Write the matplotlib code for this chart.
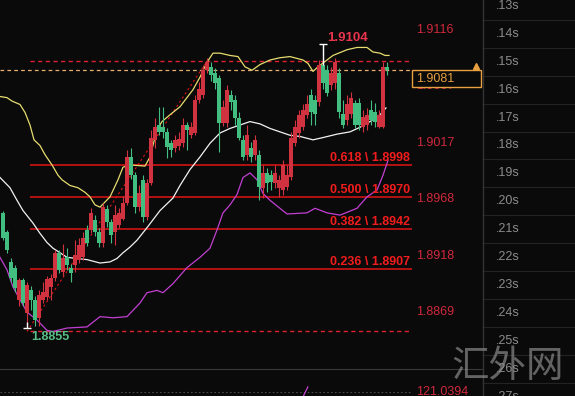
import matplotlib.pyplot as plt
from matplotlib.patches import Rectangle
from matplotlib.transforms import blended_transform_factory

plt.rcParams['font.family'] = ['Liberation Sans', 'DejaVu Sans']

# candle data (one entry per bar)
opens = [1.8956, 1.8939, 1.8913, 1.8908, 1.8880, 1.8897, 1.8868, 1.8888, 1.8880, 1.8864,
         1.8880, 1.8882, 1.8891, 1.8899, 1.8921, 1.8904, 1.8917, 1.8908, 1.8910, 1.8915,
         1.8917, 1.8941, 1.8941, 1.8950, 1.8939, 1.8930, 1.8959, 1.8948, 1.8939, 1.8945,
         1.8951, 1.8965, 1.9005, 1.8989, 1.8961, 1.8985, 1.8952, 1.8982, 1.9020, 1.9033,
         1.9031, 1.9027, 1.9017, 1.9013, 1.9015, 1.9017, 1.9033, 1.9024, 1.9026, 1.9055,
         1.9059, 1.9081, 1.9084, 1.9079, 1.9074, 1.9035, 1.9035, 1.9059, 1.9055, 1.9039,
         1.9020, 1.9007, 1.9013, 1.9007, 1.9007, 1.8978, 1.8991, 1.8989, 1.8982, 1.8978,
         1.8976, 1.8979, 1.8987, 1.9017, 1.9026, 1.9031, 1.9042, 1.9059, 1.9055, 1.9053,
         1.9086, 1.9081, 1.9068, 1.9070, 1.9079, 1.9043, 1.9037, 1.9043, 1.9052, 1.9052,
         1.9031, 1.9033, 1.9046, 1.9044, 1.9031, 1.9031, 1.9084]
closes = [1.8934, 1.8923, 1.8899, 1.8890, 1.8897, 1.8877, 1.8893, 1.8880, 1.8862, 1.8884,
          1.8887, 1.8898, 1.8899, 1.8921, 1.8906, 1.8916, 1.8910, 1.8903, 1.8919, 1.8928,
          1.8934, 1.8930, 1.8956, 1.8939, 1.8930, 1.8961, 1.8948, 1.8937, 1.8954, 1.8956,
          1.8965, 1.9005, 1.8989, 1.8961, 1.8973, 1.8952, 1.8982, 1.9022, 1.9031, 1.9027,
          1.9027, 1.9014, 1.9011, 1.9020, 1.9021, 1.9033, 1.9029, 1.9031, 1.9055, 1.9065,
          1.9081, 1.9088, 1.9077, 1.9070, 1.9035, 1.9049, 1.9064, 1.9053, 1.9039, 1.9022,
          1.9005, 1.9024, 1.9005, 1.9020, 1.8979, 1.8991, 1.8982, 1.8983, 1.8991, 1.8985,
          1.8998, 1.8989, 1.9022, 1.9031, 1.9042, 1.9046, 1.9051, 1.9044, 1.9043, 1.9086,
          1.9070, 1.9061, 1.9079, 1.9088, 1.9044, 1.9033, 1.9051, 1.9057, 1.9033, 1.9033,
          1.9040, 1.9042, 1.9037, 1.9036, 1.9042, 1.9084, 1.9081]
highs = [1.8958, 1.8941, 1.8916, 1.8910, 1.8899, 1.8899, 1.8895, 1.8892, 1.8883, 1.8888,
         1.8895, 1.8901, 1.8902, 1.8923, 1.8923, 1.8929, 1.8925, 1.8911, 1.8932, 1.8934,
         1.8939, 1.8945, 1.8960, 1.8954, 1.8943, 1.8965, 1.8963, 1.8951, 1.8963, 1.8960,
         1.8971, 1.9011, 1.9013, 1.8992, 1.8980, 1.8989, 1.8986, 1.9029, 1.9039, 1.9049,
         1.9049, 1.9030, 1.9020, 1.9024, 1.9027, 1.9039, 1.9036, 1.9036, 1.9059, 1.9071,
         1.9086, 1.9092, 1.9088, 1.9083, 1.9077, 1.9055, 1.9068, 1.9064, 1.9059, 1.9044,
         1.9024, 1.9033, 1.9018, 1.9024, 1.9011, 1.8998, 1.8995, 1.8994, 1.8998, 1.8989,
         1.9002, 1.8998, 1.9027, 1.9037, 1.9046, 1.9051, 1.9059, 1.9065, 1.9059, 1.9090,
         1.9104, 1.9086, 1.9084, 1.9092, 1.9083, 1.9055, 1.9059, 1.9062, 1.9055, 1.9057,
         1.9046, 1.9048, 1.9055, 1.9052, 1.9046, 1.9088, 1.9088]
lows = [1.8932, 1.8921, 1.8895, 1.8887, 1.8874, 1.8874, 1.8855, 1.8871, 1.8857, 1.8857,
        1.8877, 1.8880, 1.8880, 1.8896, 1.8903, 1.8901, 1.8906, 1.8895, 1.8904, 1.8912,
        1.8915, 1.8927, 1.8938, 1.8936, 1.8926, 1.8926, 1.8944, 1.8930, 1.8928, 1.8943,
        1.8950, 1.8963, 1.8986, 1.8956, 1.8958, 1.8948, 1.8950, 1.8980, 1.9013, 1.9024,
        1.9022, 1.9004, 1.9005, 1.9009, 1.9011, 1.9014, 1.9011, 1.9022, 1.9024, 1.9052,
        1.9057, 1.9079, 1.9072, 1.9065, 1.9009, 1.9032, 1.9031, 1.9046, 1.9033, 1.9020,
        1.9002, 1.9002, 1.9001, 1.9002, 1.8967, 1.8969, 1.8974, 1.8976, 1.8978, 1.8970,
        1.8972, 1.8976, 1.8985, 1.9015, 1.9022, 1.9029, 1.9039, 1.9033, 1.9033, 1.9050,
        1.9065, 1.9058, 1.9064, 1.9065, 1.9039, 1.9030, 1.9033, 1.9039, 1.9030, 1.9029,
        1.9027, 1.9029, 1.9033, 1.9031, 1.9030, 1.9030, 1.9077]

# band indicator (bar index, value)
upper_idx = [-0.75, 1, 2.25, 4.25, 5.5, 6.75, 7.75, 9.25, 10.5, 12.25, 13.75, 14.75, 16.75,
             18.75, 20.5, 21.75, 23, 24.25, 26.75, 28.75, 30, 31.75, 35.5, 36.75, 38.5,
             39.75, 41.75, 44.25, 47.5, 49.25, 51, 52.5, 54.25, 56.75, 58.75, 60.5, 62.25,
             64.25, 66.75, 69.25, 71.75, 75, 76.25, 77.5, 78.75, 81, 82.5, 86, 88.5, 91,
             92.5, 94.25, 95.5, 96.5]
upper_vals = [1.9058, 1.9057, 1.9054, 1.9051, 1.9044, 1.9033, 1.9020, 1.9015, 1.9007, 1.8998,
              1.8989, 1.8985, 1.8980, 1.8978, 1.8974, 1.8970, 1.8963, 1.8961, 1.8970, 1.8985,
              1.8996, 1.8998, 1.8997, 1.9005, 1.9029, 1.9036, 1.9042, 1.9049, 1.9064, 1.9075,
              1.9088, 1.9096, 1.9096, 1.9094, 1.9093, 1.9084, 1.9081, 1.9086, 1.9090, 1.9092,
              1.9093, 1.9090, 1.9087, 1.9080, 1.9084, 1.9090, 1.9094, 1.9099, 1.9101, 1.9101,
              1.9097, 1.9096, 1.9094, 1.9094]
mid_idx = [-0.75, 1.75, 3.5, 5, 7.5, 9.25, 11, 12.5, 14.25, 16, 18.5, 21, 24.25, 26.75,
           28.5, 30, 31.75, 33.5, 36, 39.25, 42.5, 44.25, 46.75, 49.25, 51.75, 54.25, 56.75,
           59.25, 61.75, 64.25, 66.75, 69.25, 71.75, 74.25, 77.5, 80, 83.5, 86.75, 89.25,
           91.75, 94.25, 95.75]
mid_vals = [1.8987, 1.8978, 1.8967, 1.8958, 1.8947, 1.8938, 1.8930, 1.8925, 1.8921, 1.8917,
            1.8916, 1.8915, 1.8912, 1.8913, 1.8916, 1.8921, 1.8926, 1.8932, 1.8943, 1.8958,
            1.8969, 1.8980, 1.8994, 1.9005, 1.9017, 1.9026, 1.9030, 1.9033, 1.9036, 1.9034,
            1.9030, 1.9027, 1.9024, 1.9023, 1.9020, 1.9022, 1.9025, 1.9027, 1.9031, 1.9036,
            1.9042, 1.9048]
lower_idx = [-0.75, 1, 2.5, 4.25, 6, 8.5, 11, 12.5, 16, 21, 24.25, 27.5, 31, 34.25, 36,
             38.5, 40, 42.5, 46, 49.25, 51.75, 53.5, 55, 56.75, 58.5, 60, 61.75, 63.5, 65,
             66.75, 71, 76, 78, 81, 84.25, 88.5, 91, 93.5, 95, 96.25]
lower_vals = [1.8917, 1.8906, 1.8891, 1.8880, 1.8869, 1.8862, 1.8853, 1.8852, 1.8855, 1.8856,
              1.8865, 1.8864, 1.8865, 1.8877, 1.8886, 1.8888, 1.8886, 1.8894, 1.8908, 1.8917,
              1.8925, 1.8941, 1.8956, 1.8963, 1.8972, 1.8987, 1.8991, 1.8985, 1.8973, 1.8967,
              1.8955, 1.8956, 1.8960, 1.8956, 1.8954, 1.8960, 1.8970, 1.8976, 1.8989, 1.9002]

# fibonacci retracement
fib_low = 1.8852
fib_high = 1.9089
fib_start, fib_end = 6, 51
fib_ratios = [0.236, 0.382, 0.500, 0.618]
fib_prices = [1.8907, 1.8942, 1.8970, 1.8998]

price_ticks = [1.9116, 1.9067, 1.9017, 1.8968, 1.8918, 1.8869]
last_price = 1.9081
time_labels = ['.13s', '.14s', '.15s', '.16s', '.17s', '.18s', '.19s', '.20s',
               '.21s', '.22s', '.23s', '.24s', '.25s', '.26s', '.27s']

sub_value = 121.0394
sub_idx = [75, 76.2]
sub_vals = [120.99, 121.09]

BG = '#0a0a0a'
UP = '#d0323f'
DOWN = '#42bf80'
FIB = '#e01414'
LABEL = '#d0283c'
ORANGE = '#e8a040'

W, H = 575, 396
fig = plt.figure(figsize=(W / 100, H / 100), dpi=100, facecolor=BG)

ax = fig.add_axes([0, 27 / H, 482 / W, 369 / H])
ax.set_facecolor(BG)
ax.axis('off')
ax.set_xlim(-0.75, 119.75)
ylo, yhi = 1.88191, 1.91426
ax.set_ylim(ylo, yhi)
px = (yhi - ylo) / 369
trans = blended_transform_factory(ax.transAxes, ax.transData)
line_end = 102.25

# bands
ax.plot(upper_idx, upper_vals, color='#e6dc6e', lw=0.9, zorder=3)
ax.plot(mid_idx, mid_vals, color='#f2f2f2', lw=0.9, zorder=3)
ax.plot(lower_idx, lower_vals, color='#c23fd2', lw=0.9, zorder=3)

# fib lines
ax.hlines(fib_prices, fib_start + 0.75, line_end, color=FIB, lw=1.1, zorder=2)
ax.hlines([fib_low, fib_high], fib_start + 0.75, line_end, color='#e02030', lw=1.0,
          linestyles=(0, (3, 2.5)), zorder=2)
ax.plot([fib_start, fib_end], [fib_low, fib_high], color=FIB, lw=0.8,
        ls=(0, (2, 2.5)), zorder=2)
for r, p in zip(fib_ratios, fib_prices):
    ax.annotate(f"{r:.3f} \\ {p:.4f}", (101.75, p), xytext=(0, 0.5),
                textcoords='offset points', ha='right', va='bottom', color='#f21c1c',
                fontsize=9, fontweight='bold', zorder=6)

ax.hlines(last_price, -0.75, line_end, color='#e6b070', lw=0.9,
          linestyles=(0, (3, 2.5)), zorder=2)

# candles
for i, (o, c, h, l) in enumerate(zip(opens, closes, highs, lows)):
    col = UP if c >= o else DOWN
    ax.vlines(i, l, h, color=col, lw=0.8, zorder=4)
    ax.bar(i, max(abs(c - o), px), bottom=min(o, c), width=0.8, color=col,
           lw=0, zorder=4)

# high / low markers
hi_i = highs.index(max(highs))
lo_i = lows.index(min(lows))
ax.vlines(hi_i, max(opens[hi_i], closes[hi_i]), highs[hi_i], color='white', lw=1, zorder=5)
ax.hlines(highs[hi_i], hi_i - 0.9, hi_i + 0.9, color='white', lw=1, zorder=5)
ax.vlines(lo_i, lows[lo_i], lows[lo_i] + 6 * px, color='white', lw=1, zorder=5)
ax.hlines(lows[lo_i], lo_i - 0.9, lo_i + 0.9, color='white', lw=1, zorder=5)
ax.annotate(f"{highs[hi_i]:.4f}", (hi_i, highs[hi_i]), xytext=(18, 4),
            textcoords='offset points', ha='center', va='center', color='#e8344c',
            fontsize=9.5, fontweight='bold', zorder=6)
ax.annotate(f"{lows[lo_i]:.4f}", (lo_i, lows[lo_i]), xytext=(17, -6.5),
            textcoords='offset points', ha='center', va='center', color='#58bf86',
            fontsize=9, fontweight='bold', zorder=6)

# price labels
for p in price_ticks:
    ax.text(416 / 482, p, f"{p:.4f}", transform=trans, ha='left', va='center',
            color=LABEL, fontsize=9, zorder=3)

box_h = 17 * px
ax.add_patch(Rectangle((412 / 482, last_price - box_h), 69 / 482, box_h, transform=trans,
                       fc=BG, ec=ORANGE, lw=1, zorder=7, clip_on=False))
ax.text(416 / 482, last_price - box_h / 2, f"{last_price:.4f}", transform=trans,
        ha='left', va='center', color=ORANGE, fontsize=9, zorder=8)
ax.plot([476 / 482], [last_price + 4 * px], transform=trans, marker='^', ms=4,
        color=ORANGE, zorder=8, clip_on=False)

# lower panel
ax_sub = fig.add_axes([0, 0, 482 / W, 27 / H])
ax_sub.set_facecolor(BG)
ax_sub.set_xlim(-0.75, 119.75)
ax_sub.set_ylim(120.9994, 121.2694)
ax_sub.set_xticks([])
ax_sub.set_yticks([])
for name, sp in ax_sub.spines.items():
    sp.set_visible(name == 'top')
ax_sub.spines['top'].set_color('#3a3a3a')
ax_sub.spines['top'].set_linewidth(0.8)
ax_sub.hlines(sub_value, -0.75, line_end, color='#4a4a4a', lw=0.8, linestyles=(0, (1.5, 2)))
ax_sub.plot(sub_idx, sub_vals, color='#c23fd2', lw=0.9)
sub_trans = blended_transform_factory(ax_sub.transAxes, ax_sub.transData)
ax_sub.text(416 / 482, sub_value, f"{sub_value:.4f}", transform=sub_trans, ha='left',
            va='center', color=LABEL, fontsize=9)

# right column
ax_r = fig.add_axes([482 / W, 0, 93 / W, 1])
ax_r.set_facecolor(BG)
ax_r.axis('off')
ax_r.set_xlim(0, 1)
ax_r.set_ylim(13.98, -0.215)
ax_r.hlines([k + 0.5 for k in range(-1, len(time_labels))], 0, 1, color='#232323', lw=0.8)
ax_r.axvline(0.006, color='#333333', lw=1)
for k, lab in enumerate(time_labels):
    ax_r.text(0.15, k, lab, ha='left', va='center', color='#8c8c8c', fontsize=9)

fig.text(508 / W, 29 / H, '汇外网', ha='center', va='center', fontsize=27,
         color='#8a8a8a', alpha=0.7, fontweight='light',
         family=['Noto Sans CJK SC', 'DejaVu Sans'], zorder=10)

fig.savefig('out.png', dpi=100, facecolor=BG)
